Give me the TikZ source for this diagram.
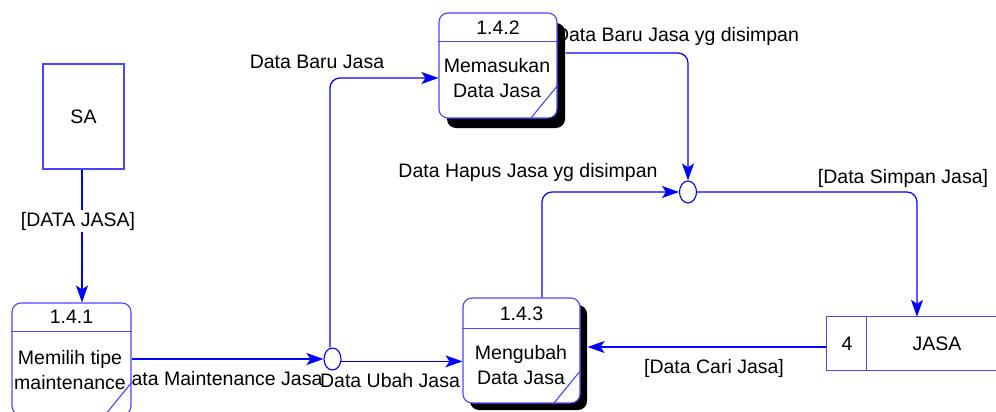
\documentclass[tikz,border=0pt]{standalone}
\usepackage{fontspec}
\setmainfont{Liberation Sans}
\usetikzlibrary{arrows.meta,shapes.geometric,shadows,backgrounds}
\definecolor{dfdblue}{RGB}{0,0,255}
\definecolor{boxblue}{RGB}{70,70,255}
\tikzset{
  txt/.style={font=\fontsize{19.5}{25}\selectfont, inner sep=0pt, align=center},
  boxline/.style={draw=boxblue, line width=1.1pt},
  procbox/.style={boxline, fill=white, rounded corners=9pt, inner sep=0pt},
  extbox/.style={boxline, fill=white, inner sep=0pt},
  junction/.style={ellipse, draw=dfdblue, line width=1.1pt, fill=white, minimum width=17pt, minimum height=22pt, inner sep=0pt},
  flow/.style={draw=dfdblue, line width=1.2pt, rounded corners=10pt,
    -{Stealth[length=17pt,width=12pt,inset=4pt]}},
  shadowA/.style={drop shadow={shadow xshift=8pt,shadow yshift=-10pt,fill=black,opacity=1}},
  shadowB/.style={drop shadow={shadow xshift=7pt,shadow yshift=-7pt,fill=black,opacity=1}},
}
\begin{document}
\begin{tikzpicture}[x=1pt,y=-1pt]
\useasboundingbox (0,0) rectangle (996,412);

% external entity
\node[extbox, minimum width=81pt, minimum height=105pt] (sa) at (83.5,116.5) {};
\node[txt] (satxt) at (83.5,116.5) {SA};

% processes
\node[procbox, minimum width=119pt, minimum height=112pt] (p1) at (71.5,359) {};
\node[procbox, minimum width=118pt, minimum height=105pt, shadowA] (p2) at (498,65.5) {};
\node[procbox, minimum width=117pt, minimum height=105pt, shadowB] (p3) at (521.5,350.5) {};

% process headers, names and corner marks
\draw[boxline] ([yshift=-29pt]p1.north west) -- ([yshift=-29pt]p1.north east);
\draw[boxline] ([yshift=-29pt]p2.north west) -- ([yshift=-29pt]p2.north east);
\draw[boxline] ([yshift=-31pt]p3.north west) -- ([yshift=-31pt]p3.north east);
\draw[boxline] ([xshift=-27pt]p1.south east) -- ([yshift=33pt]p1.south east);
\draw[boxline] ([xshift=-27pt]p2.south east) -- ([yshift=33pt]p2.south east);
\draw[boxline] ([xshift=-27pt]p3.south east) -- ([yshift=33pt]p3.south east);
\node[txt] (p1id) at (71.5,316.5) {1.4.1};
\node[txt] (p1name) at (70,370) {Memilih tipe\\maintenance};
\node[txt] (p2id) at (498,27.5) {1.4.2};
\node[txt] (p2name) at (497,78.5) {Memasukan\\Data Jasa};
\node[txt] (p3id) at (521.5,313.5) {1.4.3};
\node[txt] (p3name) at (521,365.5) {Mengubah\\Data Jasa};

% data store (open on the right)
\node[inner sep=0pt, minimum width=169pt, minimum height=53pt] (store) at (911.5,343.5) {};
\draw[boxline] (store.north east) -- (store.north west) -- (store.south west) -- (store.south east);
\draw[boxline] ([xshift=40pt]store.north west) -- ([xshift=40pt]store.south west);
\node[txt] (storeid) at (847,343.5) {4};
\node[txt] (storename) at (937,343.5) {JASA};

% junctions
\node[junction] (j1) at (332.5,359) {};
\node[junction] (j2) at (688,192) {};

\begin{pgfonlayer}{background}
  % data flows
  \draw[flow] (sa.south -| 82,0) -- (p1.north -| 82,0);
  \node[txt, fill=white, inner sep=2pt] (lDataJasa) at (78,221) {[DATA JASA]};
  \draw[flow] (p1.east) -- (j1.west);
  \draw[flow] (j1.north -| 330,0) |- ([yshift=-12.5pt]p2.west);
  \draw[flow] (j1.-15) -- (j1.-15 -| p3.west);
  \draw[flow] ([xshift=8pt,yshift=12.5pt]p2.east) -| (j2.north);
  \draw[flow] ([xshift=20.5pt]p3.north) |- (j2.west);
  \draw[flow] (j2.east) -| ([xshift=5.5pt]store.north);
  \draw[flow] ([yshift=-3.5pt]store.west) -- ([xshift=7pt,yshift=-3.5pt]store.west -| p3.east);

  % flow labels
  \node[txt] (lBaru) at (317,62) {Data Baru Jasa};
  \node[txt] (lBaruSimpan) at (677,36) {Data Baru Jasa yg disimpan};
  \node[txt] (lHapus) at (528,172) {Data Hapus Jasa yg disimpan};
  \node[txt] (lSimpan) at (903,178) {[Data Simpan Jasa]};
  \node[txt] (lCari) at (714,368) {[Data Cari Jasa]};
  \node[txt] (lMaint) at (220,379) {Data Maintenance Jasa};
  \node[txt] (lUbah) at (390,381) {Data Ubah Jasa};
\end{pgfonlayer}
\end{tikzpicture}
\end{document}
